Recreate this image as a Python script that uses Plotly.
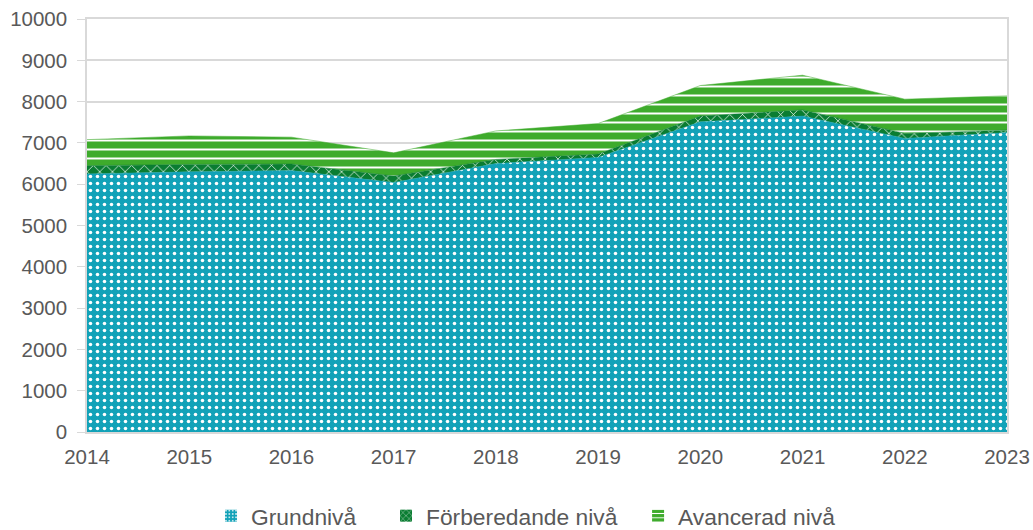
import plotly.graph_objects as go

years = [2014, 2015, 2016, 2017, 2018, 2019, 2020, 2021, 2022, 2023]
grundniva = [6250, 6300, 6330, 6040, 6500, 6650, 7510, 7650, 7110, 7250]
forberedande = [200, 180, 160, 160, 100, 80, 140, 150, 120, 60]
avancerad = [630, 690, 650, 560, 690, 740, 740, 840, 830, 830]
y_ticks = [0, 1000, 2000, 3000, 4000, 5000, 6000, 7000, 8000, 9000, 10000]

series_names = ["Grundnivå", "Förberedande nivå", "Avancerad nivå"]
series_values = [grundniva, forberedande, avancerad]
colors = ["#12A2B8", "#0A7D32", "#3EAB2C"]
patterns = [
    dict(shape=".", fgcolor="white", bgcolor="#12A2B8", size=7, solidity=0.2, fillmode="replace"),
    dict(shape="x", fgcolor="white", bgcolor="#0A7D32", size=9, solidity=0.15, fillmode="replace"),
    dict(shape="-", fgcolor="white", bgcolor="#3EAB2C", size=9, solidity=0.22, fillmode="replace"),
]
legend_ids = ["legend", "legend2", "legend3"]
legend_x = [0.1348, 0.325, 0.599]

fig = go.Figure()
for name, vals, col, pat in zip(series_names, series_values, colors, patterns):
    fig.add_trace(go.Scatter(
        x=years, y=vals, name=name, mode="lines", stackgroup="one",
        line=dict(width=0.5, color=col), fillcolor=col, fillpattern=pat,
        showlegend=False,
    ))
# legend-only entries (square pattern swatches)
for name, col, pat, lid in zip(series_names, colors, patterns, legend_ids):
    bpat = dict(shape=pat["shape"], fgcolor="white", bgcolor=col,
                size=max(4, pat["size"] * 0.6), solidity=pat["solidity"], fillmode="replace")
    fig.add_trace(go.Bar(x=[None], y=[None], name=name, legend=lid,
                         marker=dict(color=col, pattern=bpat, line=dict(width=0))))

legend_font = dict(size=22.8, color="#595959", family="Liberation Sans, Arial, sans-serif")
leg_common = dict(orientation="h", y=-0.203, yanchor="middle", xanchor="left",
                  font=legend_font, itemwidth=30, bgcolor="rgba(0,0,0,0)", borderwidth=0)

fig.update_layout(
    width=1033, height=530,
    margin=dict(l=87, r=26, t=19, b=98, autoexpand=False),
    paper_bgcolor="white", plot_bgcolor="white",
    font=dict(family="Liberation Sans, Arial, sans-serif", size=20.5, color="#595959"),
    showlegend=True,
    legend=dict(x=legend_x[0], **leg_common),
    legend2=dict(x=legend_x[1], **leg_common),
    legend3=dict(x=legend_x[2], **leg_common),
    hovermode=False,
)
fig.update_xaxes(range=[2014, 2023], tickmode="array", tickvals=years,
                 ticktext=[str(y) for y in years], showgrid=False,
                 showline=True, linecolor="#D9D9D9", linewidth=1.5, mirror=True,
                 ticks="", zeroline=False, automargin=False, ticklabelstandoff=6,
                 ticklabeloverflow="allow")
fig.update_yaxes(range=[0, 10001], tickmode="array", tickvals=y_ticks,
                 ticktext=[str(v) for v in y_ticks], showgrid=True,
                 gridcolor="#D9D9D9", gridwidth=1.5, showline=True,
                 linecolor="#D9D9D9", linewidth=1.5, mirror=True,
                 ticks="outside", ticklen=8, tickcolor="#D9D9D9",
                 zeroline=False, automargin=False, ticklabelstandoff=6,
                 ticklabeloverflow="allow")

fig.write_html("out.html", config={"displayModeBar": False},
               post_script="document.body.style.margin='0';document.body.style.overflow='hidden';")
